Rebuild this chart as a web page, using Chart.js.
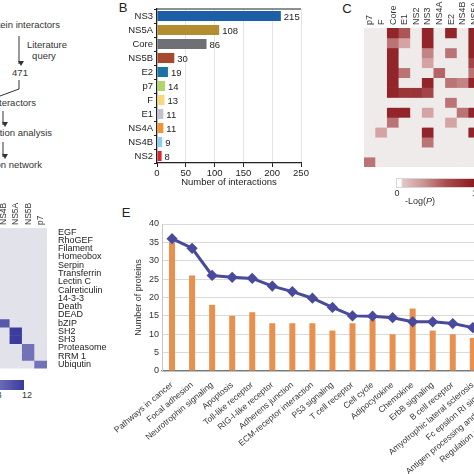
<!DOCTYPE html>
<html>
<head>
<meta charset="utf-8">
<script src="https://cdn.jsdelivr.net/npm/chart.js@4.4.1/dist/chart.umd.min.js"></script>
<style>
  html, body { margin: 0; padding: 0; background: #fff; overflow: hidden; }
  body { width: 474px; height: 474px; position: relative; font-family: "Liberation Sans", Arial, sans-serif; color: #333; }
  canvas { position: absolute; }
  .txt { position: absolute; font-size: 9px; line-height: 1; white-space: nowrap; color: #333; transform: translate(-50%, -50%); }
  .panel { position: absolute; font-size: 13px; line-height: 1; color: #222; transform: translate(-50%, -50%); }
  .cbar { position: absolute; height: 10px; box-sizing: border-box; border: 1px solid #d6d6d6; }
</style>
</head>
<body>

<!-- panel A: workflow -->
<svg width="100" height="185" style="position:absolute;left:0;top:0" font-family="Liberation Sans, Arial, sans-serif" font-size="9.5" fill="#333">
  <defs>
    <marker id="arr" markerWidth="6" markerHeight="6" refX="3" refY="5" orient="auto" markerUnits="userSpaceOnUse">
      <path d="M0,0 L3,5 L6,0 Z" fill="#333" transform="rotate(-90 3 3)"/>
    </marker>
  </defs>
  <text x="60" y="28" text-anchor="end">Protein interactors</text>
  <text x="47" y="48" text-anchor="middle">Literature</text>
  <text x="44" y="59" text-anchor="middle">query</text>
  <text x="20" y="76" text-anchor="middle">471</text>
  <text x="36" y="106" text-anchor="end">Total interactors</text>
  <text x="52" y="136" text-anchor="end">Annotation analysis</text>
  <text x="42" y="168" text-anchor="end">Interaction network</text>
  <g stroke="#333" stroke-width="1" fill="none">
    <line x1="19" y1="36" x2="19" y2="64" marker-end="url(#arr)"/>
    <polyline points="19,80 19,89 0,96"/>
    <line x1="3" y1="111" x2="3" y2="125" marker-end="url(#arr)"/>
    <line x1="3" y1="142" x2="3" y2="157" marker-end="url(#arr)"/>
  </g>
</svg>

<div class="panel" style="left:123px;top:7px">B</div>
<div class="panel" style="left:347px;top:8px">C</div>
<div class="panel" style="left:126px;top:212px">E</div>

<canvas id="chartB" width="210" height="188" style="left:100px;top:0px"></canvas>
<canvas id="chartC" width="152" height="167" style="left:340px;top:0px"></canvas>
<canvas id="chartD" width="198" height="179" style="left:-89px;top:198px"></canvas>
<canvas id="chartE" width="450" height="300" style="left:100px;top:200px"></canvas>

<!-- colour bars -->
<div class="cbar" style="left:396px;top:178px;width:82px;background:linear-gradient(to right,#ffffff 0%,#ffffff 5%,#e4c6c6 7%,#cf9a9b 30%,#aa4a4c 62%,#8a1519 100%)"></div>
<div class="txt" style="left:397px;top:193px">0</div>
<div class="txt" style="left:477px;top:193px">12</div>
<div class="txt" style="left:420px;top:201px">-Log(<i>P</i>)</div>

<div class="cbar" style="left:-85px;top:380px;width:109px;border:none;background:linear-gradient(to right,#ffffff 0%,#c8c8e6 20%,#8585c6 55%,#6a6ab8 78%,#3a3a9e 100%)"></div>
<div class="txt" style="left:-1px;top:395px">8</div>
<div class="txt" style="left:27px;top:395px">12</div>

<script>
Chart.defaults.font.family = '"Liberation Sans", Arial, sans-serif';
Chart.defaults.font.size = 9;
Chart.defaults.color = '#333';

// ---- panel B: interactions per viral protein ----
const bProteins = ['NS3', 'NS5A', 'Core', 'NS5B', 'E2', 'p7', 'F', 'E1', 'NS4A', 'NS4B', 'NS2'];
const bInteractions = [215, 108, 86, 30, 19, 14, 13, 11, 11, 9, 8];
const bColors = ['#1d5ea8', '#b38d30', '#6e7075', '#a64a2e', '#1a74a6', '#b3d36d',
                 '#f8d87c', '#c2c2ca', '#ef9630', '#8ecdee', '#d6282e'];

// ---- panel C: -log(P) heatmap, rows top to bottom ----
const cGenes = ['p7', 'F', 'Core', 'E1', 'NS2', 'NS3', 'NS4A', 'E2', 'NS4B', 'NS5A', 'NS5B'];
const cLogP = [
  [0, 0, 11, 8, 0, 11, 0, 11, 0, 11, 0],
  [0, 0, 6, 3, 0, 11, 0, 0, 0, 11, 0],
  [0, 0, 11, 0, 0, 5, 0, 6, 0, 11, 0],
  [0, 0, 11, 0, 0, 3, 0, 0, 0, 9, 0],
  [0, 0, 11, 6, 0, 0, 7, 0, 0, 6, 0],
  [0, 0, 11, 0, 0, 11, 0, 6, 5, 11, 0],
  [0, 0, 11, 10, 10, 9, 0, 0, 0, 0, 0],
  [0, 0, 0, 0, 0, 0, 0, 6, 0, 0, 0],
  [0, 0, 11, 11, 0, 3, 0, 0, 6, 11, 0],
  [0, 0, 6, 0, 0, 0, 0, 3, 0, 0, 0],
  [0, 3, 0, 0, 0, 11, 0, 0, 0, 11, 0],
  [0, 0, 0, 0, 0, 6, 0, 0, 0, 0, 0],
  [0, 0, 0, 0, 0, 0, 0, 0, 0, 0, 0],
  [6, 0, 0, 0, 0, 0, 0, 0, 0, 0, 0]
];

// ---- panel D: domain enrichment heatmap ----
const dGenes = ['Core', 'E1', 'E2', 'F', 'NS2', 'NS3', 'NS4A', 'NS4B', 'NS5A', 'NS5B', 'p7'];
const dDomains = ['EGF', 'RhoGEF', 'Filament', 'Homeobox', 'Serpin', 'Transferrin', 'Lectin C',
                  'Calreticulin', '14-3-3', 'Death', 'DEAD', 'bZIP', 'SH2', 'SH3',
                  'Proteasome', 'RRM 1', 'Ubiqutin'];
const dLogP = [
  [0, 0, 0, 0, 0, 0, 0, 0, 0, 0, 0],
  [0, 0, 0, 0, 0, 0, 0, 0, 0, 0, 0],
  [0, 0, 0, 0, 0, 0, 0, 0, 0, 0, 0],
  [0, 0, 0, 0, 0, 0, 0, 0, 0, 0, 0],
  [0, 0, 0, 0, 0, 0, 0, 0, 0, 0, 0],
  [0, 0, 0, 0, 0, 0, 0, 0, 0, 0, 0],
  [0, 0, 0, 0, 0, 0, 0, 0, 0, 0, 0],
  [0, 0, 0, 0, 0, 0, 0, 0, 0, 0, 0],
  [0, 0, 0, 0, 0, 0, 0, 0, 0, 0, 0],
  [0, 0, 0, 0, 0, 0, 0, 0, 0, 0, 0],
  [0, 0, 0, 0, 0, 0, 0, 0, 0, 0, 0],
  [0, 0, 0, 0, 0, 0, 0, 9, 0, 0, 0],
  [0, 0, 0, 0, 0, 0, 0, 0, 11, 0, 0],
  [0, 0, 0, 0, 0, 0, 0, 0, 11, 0, 0],
  [0, 0, 0, 0, 0, 0, 0, 0, 0, 7, 0],
  [0, 0, 0, 0, 0, 0, 0, 0, 0, 7, 0],
  [0, 0, 0, 0, 0, 0, 0, 0, 0, 0, 7]
];

// ---- panel E: KEGG pathways ----
const ePathways = ['Pathways in cancer', 'Focal adhesion', 'Neurotrophin signaling', 'Apoptosis',
  'Toll-like receptor', 'RIG-I-like receptor', 'Adherens junction', 'ECM-receptor interaction',
  'P53 signaling', 'T cell receptor', 'Cell cycle', 'Adipocytokine', 'Chemokine', 'ErbB signaling',
  'B cell receptor', 'Amyotrophic lateral sclerosis', 'Fc epsilon RI signaling',
  'Antigen processing and presentation', 'Regulation of actin cytoskeleton'];
const eProteins = [35, 26, 18, 15, 16, 13, 13, 13, 11, 13, 14, 10, 17, 11, 10, 9, 8, 9, 8];
const eScore = [36, 33.4, 26, 25.5, 25.2, 23.1, 21.6, 19.8, 17.3, 15, 14.9, 14.5, 13.4, 13.4, 12.9, 11.8, 11, 10.5, 10];

function mix(a, b, t) {
  t = Math.max(0, Math.min(1, t));
  const c = a.map((v, i) => Math.round(v + (b[i] - v) * t));
  return `rgb(${c[0]}, ${c[1]}, ${c[2]})`;
}
const cColor = v => v <= 0 ? '#efebeb' : mix([228, 196, 196], [138, 21, 25], (v - 1) / 11);
const dColor = v => v <= 0 ? '#e1e2ea' : mix([195, 195, 228], [46, 46, 150], (v - 1) / 11);

const noPlugins = { legend: { display: false }, tooltip: { enabled: false } };

// value labels at the end of each bar in B
const barValueLabels = {
  id: 'barValueLabels',
  afterDatasetsDraw(chart) {
    const ctx = chart.ctx;
    const meta = chart.getDatasetMeta(0);
    ctx.save();
    ctx.font = '9.5px "Liberation Sans", Arial, sans-serif';
    ctx.fillStyle = '#222';
    ctx.textBaseline = 'middle';
    meta.data.forEach((bar, i) => {
      ctx.fillText(String(bInteractions[i]), bar.x + 3, bar.y + 1);
    });
    ctx.restore();
  }
};

const topBorder = {
  id: 'topBorder',
  afterDraw(chart) {
    const { ctx, chartArea: a } = chart;
    ctx.save();
    ctx.strokeStyle = '#222';
    ctx.lineWidth = 1.2;
    ctx.beginPath();
    ctx.moveTo(a.left, a.top);
    ctx.lineTo(a.right, a.top);
    ctx.stroke();
    ctx.restore();
  }
};

// vertical column names above the heatmaps, centred on each column
const columnLabels = {
  id: 'columnLabels',
  afterDraw(chart, args, opts) {
    const { ctx, chartArea } = chart;
    const xs = chart.scales.x;
    ctx.save();
    ctx.font = opts.size + 'px "Liberation Sans", Arial, sans-serif';
    ctx.fillStyle = '#333';
    ctx.textAlign = 'left';
    ctx.textBaseline = 'middle';
    chart.data.labels.forEach((label, i) => {
      ctx.save();
      ctx.translate(xs.getPixelForTick(i), chartArea.top - opts.gap);
      ctx.rotate(-Math.PI / 2);
      ctx.fillText(label, 0, 0);
      ctx.restore();
    });
    ctx.restore();
  }
};

new Chart(document.getElementById('chartB'), {
  type: 'bar',
  data: {
    labels: bProteins,
    datasets: [{ data: bInteractions, backgroundColor: bColors, barPercentage: 0.72, categoryPercentage: 1 }]
  },
  options: {
    indexAxis: 'y',
    responsive: false,
    animation: false,
    layout: { padding: { top: 9, right: 9, left: 0, bottom: 0 } },
    plugins: noPlugins,
    scales: {
      x: {
        min: 0, max: 250,
        ticks: { stepSize: 50, color: '#222', padding: 1, font: { size: 9.5 } },
        grid: { color: '#e4e4e4', tickColor: '#222', tickLength: 4 },
        border: { color: '#222', width: 1.2 },
        title: { display: true, text: 'Number of interactions', color: '#222', font: { size: 9.5 }, padding: { top: 1, bottom: 0 } },
        afterFit: s => { s.height = 25; }
      },
      y: {
        ticks: { color: '#222', padding: 1, font: { size: 9.5 }, autoSkip: false },
        grid: { drawOnChartArea: false, tickColor: '#222', tickLength: 3 },
        border: { color: '#222', width: 1.2 },
        afterFit: s => { s.width = 57; }
      }
    }
  },
  plugins: [barValueLabels, topBorder]
});

// heatmaps are drawn as floating bars, one dataset per row
function heatRows(matrix, colorFn) {
  return matrix.map((row, r) => ({
    data: row.map(() => [r, r + 1]),
    backgroundColor: row.map(colorFn),
    grouped: false,
    barPercentage: 1,
    categoryPercentage: 1,
    borderWidth: 0
  }));
}

new Chart(document.getElementById('chartC'), {
  type: 'bar',
  data: { labels: cGenes, datasets: heatRows(cLogP, cColor) },
  options: {
    responsive: false,
    animation: false,
    layout: { padding: { left: 24, right: 0, top: 0, bottom: 0 } },
    plugins: Object.assign({ columnLabels: { size: 9, gap: 3 } }, noPlugins),
    scales: {
      x: {
        position: 'top',
        ticks: { display: false },
        grid: { display: false },
        border: { display: false },
        afterFit: s => { s.height = 28; }
      },
      y: { min: 0, max: cLogP.length, reverse: true, display: false }
    }
  },
  plugins: [columnLabels]
});

new Chart(document.getElementById('chartD'), {
  type: 'bar',
  data: { labels: dGenes, datasets: heatRows(dLogP, dColor) },
  options: {
    responsive: false,
    animation: false,
    layout: { padding: { top: 0, left: 0, right: 0, bottom: 8 } },
    plugins: Object.assign({ columnLabels: { size: 8.5, gap: 3 } }, noPlugins),
    scales: {
      x: {
        position: 'top',
        ticks: { display: false },
        grid: { display: false },
        border: { display: false },
        afterFit: s => { s.height = 30; }
      },
      y: { min: 0, max: dLogP.length, reverse: true, display: false },
      yNames: {
        type: 'category',
        labels: dDomains,
        position: 'right',
        offset: true,
        grid: { display: false },
        border: { display: false },
        ticks: { padding: 3, autoSkip: false, font: { size: 9 }, color: '#222' },
        afterFit: s => { s.width = 62; }
      }
    }
  },
  plugins: [columnLabels]
});

new Chart(document.getElementById('chartE'), {
  data: {
    labels: ePathways,
    datasets: [
      {
        type: 'line',
        data: eScore,
        borderColor: '#4a4a9d',
        backgroundColor: '#4a4a9d',
        borderWidth: 3,
        pointStyle: 'rectRot',
        pointRadius: 3.5,
        tension: 0,
        order: 0
      },
      {
        type: 'bar',
        data: eProteins,
        backgroundColor: '#e8914f',
        barPercentage: 0.3,
        categoryPercentage: 1,
        order: 1
      }
    ]
  },
  options: {
    responsive: false,
    animation: false,
    layout: { padding: { left: 30, right: 4, top: 24, bottom: 0 } },
    plugins: noPlugins,
    scales: {
      x: {
        ticks: { minRotation: 40, maxRotation: 40, autoSkip: false, padding: 1, font: { size: 8.5 }, color: '#333' },
        grid: { display: false },
        border: { color: '#777', width: 1.2 },
        afterFit: s => { s.height = 129; }
      },
      y: {
        min: 0, max: 40,
        ticks: { stepSize: 5, padding: 3, font: { size: 9 }, color: '#333' },
        grid: { color: '#d9d9d9', drawTicks: false },
        border: { color: '#c8c8c8' },
        title: { display: true, text: 'Number of proteins', color: '#333', font: { size: 9 }, padding: { top: 3, bottom: 0 } },
        afterFit: s => { s.width = 32; }
      }
    }
  }
});
</script>
</body>
</html>
